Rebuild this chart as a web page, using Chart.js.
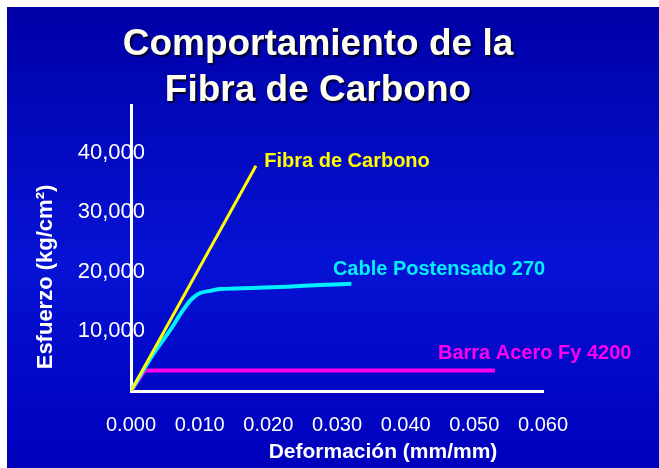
<!DOCTYPE html>
<html>
<head>
<meta charset="utf-8">
<title>Comportamiento de la Fibra de Carbono</title>
<script src="https://cdn.jsdelivr.net/npm/chart.js"></script>
<style>
    body {
        margin: 0;
        background: #ffffff;
    }
    .slide {
        position: absolute;
        left: 7px;
        top: 7px;
        width: 652px;
        height: 461px;
        background: linear-gradient(to bottom, #0000a6 0%, #0612d4 55%, #0000bc 100%);
    }
</style>
</head>
<body>
<div class="slide"><canvas id="chart" width="652" height="461"></canvas></div>
<script>
    // Text
    const titleLines = ['Comportamiento de la', 'Fibra de Carbono'];
    const xTitle = 'Deformación (mm/mm)';
    const yTitle = 'Esfuerzo (kg/cm²)';
    const seriesNames = ['Fibra de Carbono', 'Cable Postensado 270', 'Barra Acero Fy 4200'];

    // Ticks
    const xTicks = [0, 0.01, 0.02, 0.03, 0.04, 0.05, 0.06];
    const yTicks = [10000, 20000, 30000, 40000];

    // Series: strain (mm/mm) vs stress (kg/cm2)
    const fibraStrain = [0, 0.0182];
    const fibraStress = [0, 37800];
    const cableStrain = [0, 0.0033, 0.0057, 0.0076, 0.0088, 0.0100, 0.0115, 0.0130, 0.0178, 0.0227, 0.0275, 0.0321];
    const cableStress = [0, 6300, 10200, 13600, 15400, 16400, 16800, 17100, 17300, 17500, 17800, 18000];
    const barraStrain = [0, 0.0020, 0.0530];
    const barraStress = [0, 3440, 3440];

    const FONT = 'Arial, "Liberation Sans", sans-serif';

    function toPoints(xs, ys) {
        return xs.map((x, i) => ({ x: x, y: ys[i] }));
    }

    // Title, axis titles, y tick labels (they overlap the axis line,
    // which Chart.js would clip) and the names written next to each curve
    const slideText = {
        id: 'slideText',
        afterDraw(chart, args, opts) {
            const ctx = chart.ctx;
            const xs = chart.scales.x;
            const ys = chart.scales.y;
            ctx.save();

            ctx.textAlign = 'center';
            ctx.textBaseline = 'alphabetic';
            ctx.font = 'bold 37px ' + FONT;
            ctx.fillStyle = '#fffff0';
            ctx.shadowColor = 'rgba(0, 0, 30, 0.9)';
            ctx.shadowOffsetX = 2;
            ctx.shadowOffsetY = 2;
            ctx.shadowBlur = 1;
            titleLines.forEach((t, i) => ctx.fillText(t, 311, 48 + i * 46));
            ctx.shadowColor = 'transparent';

            ctx.fillStyle = '#ffffff';
            ctx.font = 'bold 21px ' + FONT;
            ctx.fillText(xTitle, 376, 451);

            ctx.save();
            ctx.translate(45, 270);
            ctx.rotate(-Math.PI / 2);
            ctx.font = 'bold 22px ' + FONT;
            ctx.fillText(yTitle, 0, 0);
            ctx.restore();

            ctx.textAlign = 'right';
            ctx.textBaseline = 'middle';
            ctx.font = '22px ' + FONT;
            yTicks.forEach(v => {
                ctx.fillText(v.toLocaleString('en-US'), xs.left + 14, ys.getPixelForValue(v));
            });

            ctx.textAlign = 'left';
            ctx.textBaseline = 'alphabetic';
            ctx.font = 'bold 20px ' + FONT;
            seriesNames.forEach((name, i) => {
                const a = opts.anchors[i];
                ctx.fillStyle = chart.data.datasets[i].borderColor;
                ctx.fillText(name, xs.getPixelForValue(a[0]), ys.getPixelForValue(a[1]));
            });
            ctx.restore();
        }
    };

    const chart = new Chart(document.getElementById('chart'), {
        type: 'line',
        data: {
            datasets: [
                {
                    label: seriesNames[0],
                    data: toPoints(fibraStrain, fibraStress),
                    borderColor: '#ffff00',
                    borderWidth: 3,
                    pointRadius: 0,
                    tension: 0
                },
                {
                    label: seriesNames[1],
                    data: toPoints(cableStrain, cableStress),
                    borderColor: '#00f0ff',
                    borderWidth: 4,
                    pointRadius: 0,
                    cubicInterpolationMode: 'monotone'
                },
                {
                    label: seriesNames[2],
                    data: toPoints(barraStrain, barraStress),
                    borderColor: '#ff00ee',
                    borderWidth: 4,
                    pointRadius: 0,
                    tension: 0
                }
            ]
        },
        options: {
            responsive: false,
            animation: false,
            devicePixelRatio: 1,
            layout: {
                padding: { left: 0, right: 116, top: 98, bottom: 0 }
            },
            plugins: {
                legend: { display: false },
                tooltip: { enabled: false },
                slideText: {
                    anchors: [[0.0194, 37600], [0.0294, 19500], [0.0447, 5370]]
                }
            },
            scales: {
                x: {
                    type: 'linear',
                    min: 0,
                    max: 0.06,
                    afterBuildTicks: s => { s.ticks = xTicks.map(v => ({ value: v })); },
                    afterFit: s => { s.height = 77; },
                    grid: { display: false, drawTicks: false },
                    border: { display: true, color: '#ffffff', width: 3 },
                    ticks: {
                        color: '#ffffff',
                        font: { size: 20, family: FONT },
                        padding: 22,
                        maxRotation: 0,
                        autoSkip: false,
                        callback: v => v.toFixed(3)
                    }
                },
                y: {
                    type: 'linear',
                    min: 0,
                    max: 48000,
                    afterBuildTicks: s => { s.ticks = yTicks.map(v => ({ value: v })); },
                    afterFit: s => { s.width = 124; },
                    grid: { display: false, drawTicks: false },
                    border: { display: true, color: '#ffffff', width: 3 },
                    ticks: { display: false }
                }
            }
        },
        plugins: [slideText]
    });
</script>
</body>
</html>
